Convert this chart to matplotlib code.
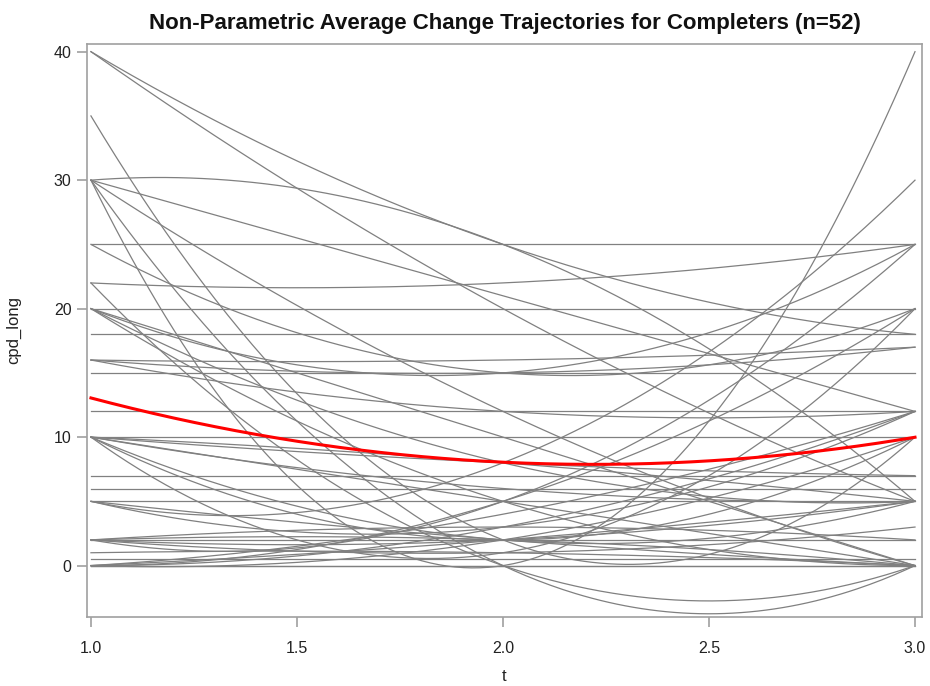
import numpy as np
import matplotlib
matplotlib.use("Agg")
import matplotlib.pyplot as plt

# cpd_long for each completer at the three visits (t = 1, 2, 3)
t_obs = [1, 2, 3]
cpd_t1 = [40, 40, 35, 30, 30, 30, 30, 30, 25, 25, 20, 22, 10, 22, 20, 20,
          20, 20, 18, 16, 16, 16, 15, 10, 12, 10, 10, 10, 10, 10, 10, 0,
          7, 6, 5, 5, 5, 2, 5, 2, 2, 2, 2, 2, 1, 0.5, 0, 0, 0, 0, 0, 0]
cpd_t2 = [25, 20, 2, 25, 21, 0, 0, 12, 25, 15, 10, 0, 2, 22, 20, 15,
          8, 5, 18, 16, 15, 12, 15, 8, 12, 8, 10, 5, 1, 2, 6, 5,
          7, 6, 5, 2, 8, 3, 3, 2, 2, 1, 5, 2, 1, 0.5, 0, 3, 2, 2, 0, 4]
cpd_t3 = [18, 5, 10, 5, 12, 0, 40, 0, 25, 20, 0, 0, 5, 25, 20, 25,
          5, 0, 18, 17, 17, 12, 15, 5, 12, 7, 10, 0, 20, 10, 5, 20,
          7, 6, 5, 0, 30, 2, 12, 2, 0, 3, 25, 5, 0, 0.5, 0, 12, 10, 5, 0, 12]

subjects = np.array([cpd_t1, cpd_t2, cpd_t3], dtype=float).T
t_grid = np.linspace(1, 3, 200)


def smooth(values):
    # quadratic through the three visits
    coef = np.polyfit(t_obs, values, 2)
    return np.polyval(coef, t_grid)


plt.rcParams['font.family'] = ['Liberation Sans', 'DejaVu Sans']

fig = plt.figure(figsize=(9.3, 6.86), dpi=100)
ax = fig.add_axes([0.0935, 0.1006, 0.8979, 0.8353])

for row in subjects:
    ax.plot(t_grid, smooth(row), color='#808080', lw=0.9)

avg = subjects.mean(axis=0)
ax.plot(t_grid, smooth(avg), color='red', lw=2.2)

ax.set_xlim(0.9903, 3.017)
ax.set_ylim(-4.0, 40.6)
ax.set_xticks([1.0, 1.5, 2.0, 2.5, 3.0])
ax.set_xticklabels(['1.0', '1.5', '2.0', '2.5', '3.0'])
ax.set_yticks([0, 10, 20, 30, 40])

for side in ax.spines.values():
    side.set_color('#a0a0a0')
    side.set_linewidth(1.2)
ax.tick_params(colors='#a0a0a0', labelcolor='#222222', labelsize=11.5,
               length=7, width=1.2)
ax.tick_params(axis='x', pad=10)
ax.tick_params(axis='y', pad=4)

ax.set_xlabel('t', fontsize=12, color='#222222', labelpad=10)
ax.set_ylabel('cpd_long', fontsize=12, color='#222222')
ax.yaxis.set_label_coords(-0.079, 0.5)
ax.set_title('Non-Parametric Average Change Trajectories for Completers (n=52)',
             fontsize=16, fontweight='bold', color='#111111', pad=11)

fig.savefig('out.png', dpi=100)
